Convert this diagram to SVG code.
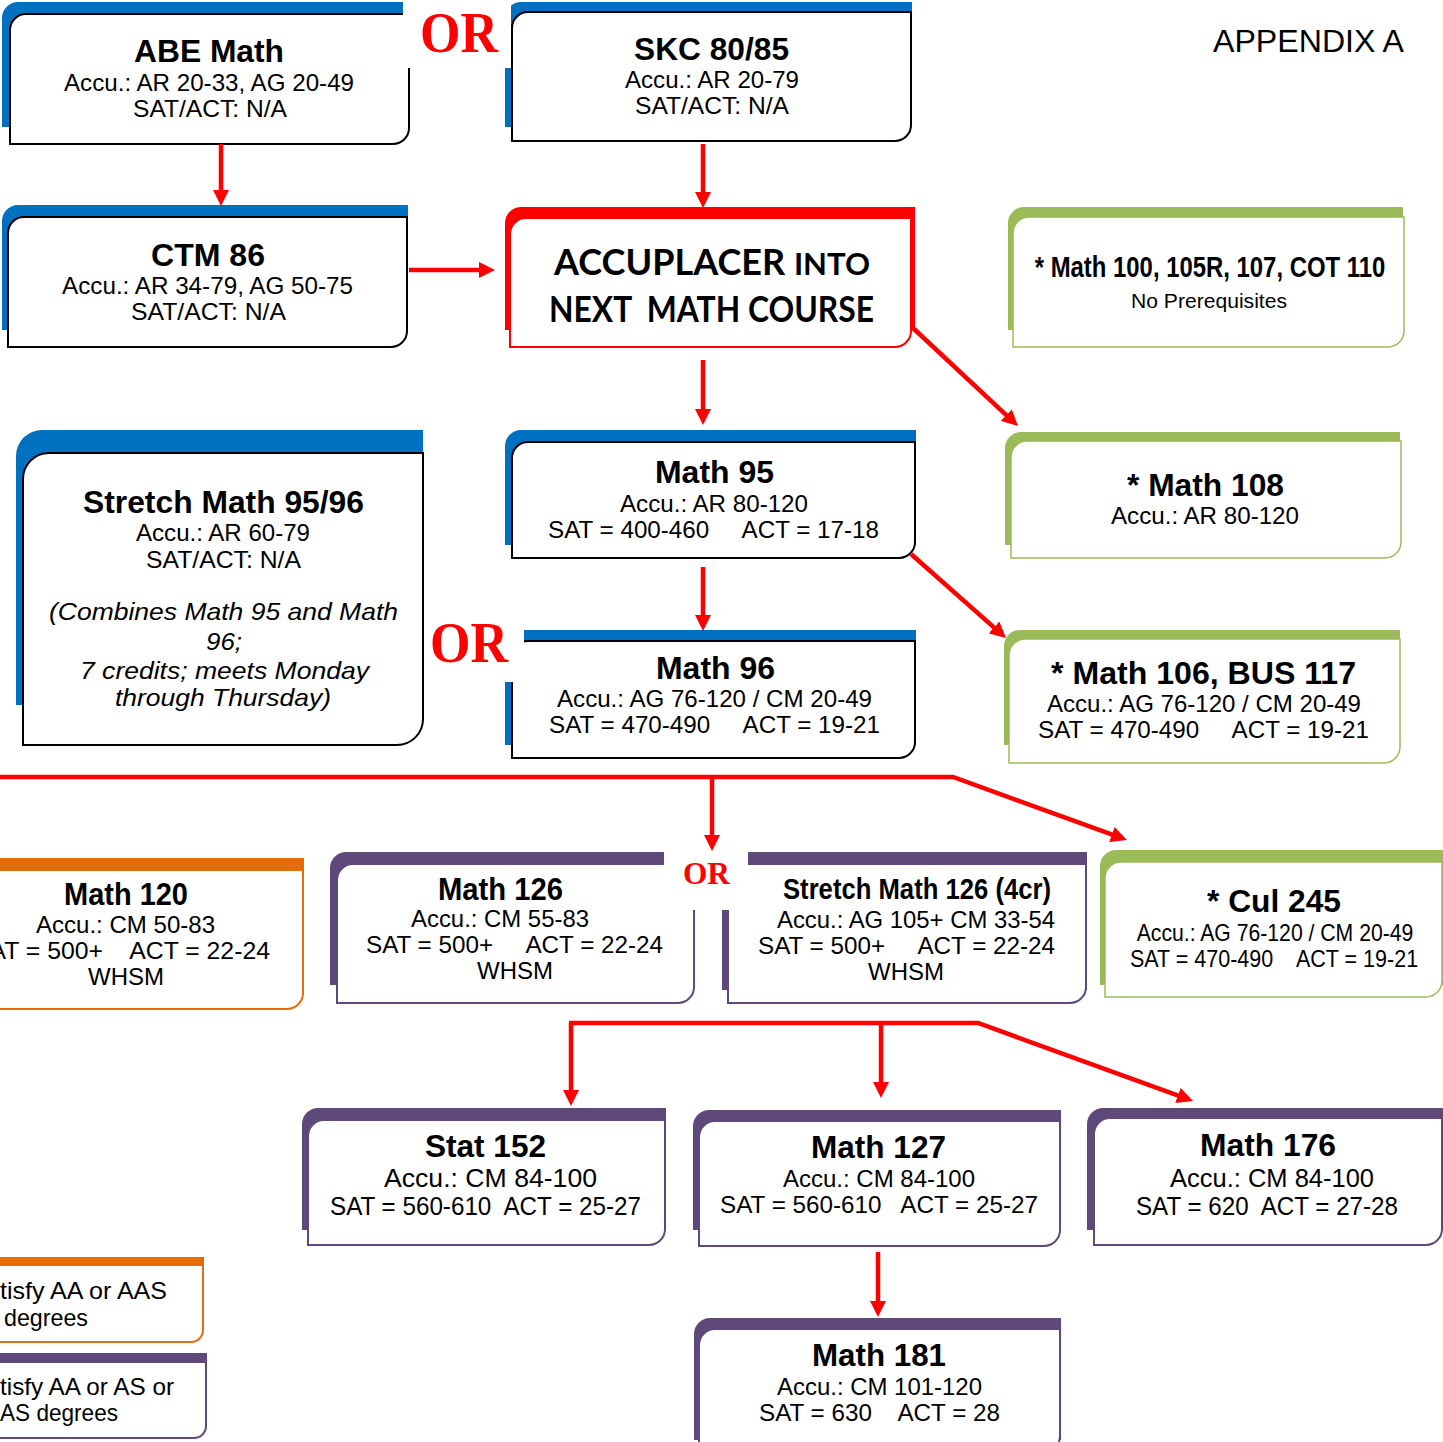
<svg xmlns="http://www.w3.org/2000/svg" width="1443" height="1442" viewBox="0 0 1443 1442">
<style>
text{font-family:"Liberation Sans",Arial,sans-serif;fill:#000;white-space:pre}
.t{font-size:31px;font-weight:bold;text-anchor:middle}
.tc{font-size:29px;font-weight:bold;text-anchor:middle}
.l{font-size:24px;text-anchor:middle}
.l2{font-size:25px;text-anchor:middle}
.i{font-size:24px;font-style:italic;text-anchor:middle}
.s{font-size:24px}
.or{font-family:"Liberation Serif","Times New Roman",serif;font-weight:bold;fill:#FF0000;text-anchor:middle}
.acc{font-family:Lato,"Liberation Sans",sans-serif;font-weight:700;font-size:36px;text-anchor:middle}
.bb{fill:#0070C0}.bw{fill:#fff;stroke:#000;stroke-width:2}
.rb{fill:#FF0000}.rw{fill:#fff;stroke:#FF0000;stroke-width:2}
.gb{fill:#9BBB59}.gw{fill:#fff;stroke:#9BBB59;stroke-width:1.5}
.ob{fill:#E46C0A}.ow{fill:#fff;stroke:#E46C0A;stroke-width:2}
.pb{fill:#5F497A}.pw{fill:#fff;stroke:#5F497A;stroke-width:2}
.c{fill:none;stroke:#FF0000;stroke-width:4.5;marker-end:url(#ah)}
</style>
<defs>
<marker id="ah" markerUnits="userSpaceOnUse" markerWidth="16" markerHeight="16" refX="4" refY="8" orient="auto">
<path d="M0,0 L16,8 L0,16 Z" fill="#FF0000"/>
</marker>
</defs>
<rect width="1443" height="1442" fill="#fff"/>

<g id="abe-math">
<path class="bb" d="M2,127 V18 A16,16 0 0 1 18,2 H403 V127 Z"/>
<path class="bw" d="M10,144 V30 A16,16 0 0 1 26,14 H409 V128 A16,16 0 0 1 393,144 Z"/>
<text class="t" x="209" y="62" textLength="150" lengthAdjust="spacingAndGlyphs">ABE Math</text>
<text class="l" x="209" y="91" textLength="290" lengthAdjust="spacingAndGlyphs">Accu.: AR 20-33, AG 20-49</text>
<text class="l" x="210" y="117" textLength="154" lengthAdjust="spacingAndGlyphs">SAT/ACT: N/A</text>
</g>

<g id="skc">
<path class="bb" d="M505,127 V18 A16,16 0 0 1 521,2 H912 V127 Z"/>
<path class="bw" d="M512,141 V28 A16,16 0 0 1 528,12 H911 V125 A16,16 0 0 1 895,141 Z"/>
<text class="t" x="711.5" y="60" textLength="155" lengthAdjust="spacingAndGlyphs">SKC 80/85</text>
<text class="l" x="712" y="88" textLength="174" lengthAdjust="spacingAndGlyphs">Accu.: AR 20-79</text>
<text class="l" x="712" y="114" textLength="154" lengthAdjust="spacingAndGlyphs">SAT/ACT: N/A</text>
</g>

<g id="ctm86">
<path class="bb" d="M2,330 V221 A16,16 0 0 1 18,205 H408 V330 Z"/>
<path class="bw" d="M8,347 V233 A16,16 0 0 1 24,217 H407 V331 A16,16 0 0 1 391,347 Z"/>
<text class="t" x="208" y="266" textLength="114" lengthAdjust="spacingAndGlyphs">CTM 86</text>
<text class="l" x="207.5" y="294" textLength="291" lengthAdjust="spacingAndGlyphs">Accu.: AR 34-79, AG 50-75</text>
<text class="l" x="208.5" y="320" textLength="155" lengthAdjust="spacingAndGlyphs">SAT/ACT: N/A</text>
</g>

<g id="accuplacer">
<path class="rb" d="M505,330 V223 A16,16 0 0 1 521,207 H915 V330 Z"/>
<path class="rw" d="M510,347 V234 A16,16 0 0 1 526,218 H911 V331 A16,16 0 0 1 895,347 Z"/>
<text class="acc" x="712" y="275" textLength="316" lengthAdjust="spacingAndGlyphs">ACCUPLACER <tspan font-size="31">INTO</tspan></text>
<text class="acc" x="711.5" y="322" textLength="325" lengthAdjust="spacingAndGlyphs">NEXT  MATH COURSE</text>
</g>

<g id="math100">
<path class="gb" d="M1008,330 V223 A16,16 0 0 1 1024,207 H1403 V330 Z"/>
<path class="gw" d="M1013,347 V233 A16,16 0 0 1 1029,217 H1404 V331 A16,16 0 0 1 1388,347 Z"/>
<text class="tc" transform="translate(1210,277) scale(0.824,1)" x="0" y="0">* Math 100, 105R, 107, COT 110</text>
<text class="l" x="1209" y="308" style="font-size:20px" textLength="156" lengthAdjust="spacingAndGlyphs">No Prerequisites</text>
</g>

<g id="stretch-95-96">
<path class="bb" d="M16,705 V456 A26,26 0 0 1 42,430 H423 V705 Z"/>
<path class="bw" d="M23,745 V479 A26,26 0 0 1 49,453 H423 V719 A26,26 0 0 1 397,745 Z"/>
<text class="t" x="223.5" y="513" textLength="281" lengthAdjust="spacingAndGlyphs">Stretch Math 95/96</text>
<text class="l" x="223" y="541" textLength="174" lengthAdjust="spacingAndGlyphs">Accu.: AR 60-79</text>
<text class="l" x="223.5" y="568" textLength="155" lengthAdjust="spacingAndGlyphs">SAT/ACT: N/A</text>
<text class="i" x="223.5" y="620" textLength="349" lengthAdjust="spacingAndGlyphs">(Combines Math 95 and Math</text>
<text class="i" x="224" y="650" textLength="36" lengthAdjust="spacingAndGlyphs">96;</text>
<text class="i" x="224.5" y="679" textLength="289" lengthAdjust="spacingAndGlyphs">7 credits; meets Monday</text>
<text class="i" x="223" y="706" textLength="216" lengthAdjust="spacingAndGlyphs">through Thursday)</text>
</g>

<g id="math95">
<path class="bb" d="M505,545 V446 A16,16 0 0 1 521,430 H916 V545 Z"/>
<path class="bw" d="M512,558 V458 A16,16 0 0 1 528,442 H915 V542 A16,16 0 0 1 899,558 Z"/>
<text class="t" x="714.5" y="483" textLength="119" lengthAdjust="spacingAndGlyphs">Math 95</text>
<text class="l" x="714" y="512" textLength="188" lengthAdjust="spacingAndGlyphs">Accu.: AR 80-120</text>
<text class="l" x="713.5" y="538" textLength="331" lengthAdjust="spacingAndGlyphs">SAT = 400-460     ACT = 17-18</text>
</g>

<g id="math96">
<path class="bb" d="M505,745 V646 A16,16 0 0 1 521,630 H916 V745 Z"/>
<path class="bw" d="M512,758 V657 A16,16 0 0 1 528,641 H915 V742 A16,16 0 0 1 899,758 Z"/>
<text class="t" x="715.5" y="679" textLength="119" lengthAdjust="spacingAndGlyphs">Math 96</text>
<text class="l" x="714.5" y="707" textLength="315" lengthAdjust="spacingAndGlyphs">Accu.: AG 76-120 / CM 20-49</text>
<text class="l" x="714.5" y="733" textLength="331" lengthAdjust="spacingAndGlyphs">SAT = 470-490     ACT = 19-21</text>
</g>

<g id="math108">
<path class="gb" d="M1005,545 V448 A16,16 0 0 1 1021,432 H1400 V545 Z"/>
<path class="gw" d="M1011,558 V457 A16,16 0 0 1 1027,441 H1401 V542 A16,16 0 0 1 1385,558 Z"/>
<text class="t" x="1205.5" y="496" textLength="157" lengthAdjust="spacingAndGlyphs">* Math 108</text>
<text class="l" x="1205" y="524" textLength="188" lengthAdjust="spacingAndGlyphs">Accu.: AR 80-120</text>
</g>

<g id="math106-bus117">
<path class="gb" d="M1004,745 V646 A16,16 0 0 1 1020,630 H1400 V745 Z"/>
<path class="gw" d="M1009,763 V655 A16,16 0 0 1 1025,639 H1400 V747 A16,16 0 0 1 1384,763 Z"/>
<text class="t" x="1203.5" y="684" textLength="305" lengthAdjust="spacingAndGlyphs">* Math 106, BUS 117</text>
<text class="l" x="1204" y="712" textLength="314" lengthAdjust="spacingAndGlyphs">Accu.: AG 76-120 / CM 20-49</text>
<text class="l" x="1203.5" y="738" textLength="331" lengthAdjust="spacingAndGlyphs">SAT = 470-490     ACT = 19-21</text>
</g>

<g id="math120">
<path class="ob" d="M-20,995 V858 H304 V995 Z"/>
<path class="ow" d="M-20,1009 V870 H303 V993 A16,16 0 0 1 287,1009 Z"/>
<text class="t" x="126" y="905" textLength="124" lengthAdjust="spacingAndGlyphs">Math 120</text>
<text class="l" x="125.5" y="933" textLength="179" lengthAdjust="spacingAndGlyphs">Accu.: CM 50-83</text>
<text class="s" x="-27" y="959" textLength="297" lengthAdjust="spacingAndGlyphs">SAT = 500+    ACT = 22-24</text>
<text class="l" x="126" y="985" textLength="76" lengthAdjust="spacingAndGlyphs">WHSM</text>
</g>

<g id="math126">
<path class="pb" d="M330,985 V868 A16,16 0 0 1 346,852 H690 V985 Z"/>
<path class="pw" d="M337,1003 V880 A16,16 0 0 1 353,864 H694 V987 A16,16 0 0 1 678,1003 Z"/>
<text class="t" x="500.5" y="900" textLength="125" lengthAdjust="spacingAndGlyphs">Math 126</text>
<text class="l" x="500" y="927" textLength="178" lengthAdjust="spacingAndGlyphs">Accu.: CM 55-83</text>
<text class="l" x="514.5" y="953" textLength="297" lengthAdjust="spacingAndGlyphs">SAT = 500+     ACT = 22-24</text>
<text class="l" x="515" y="979" textLength="76" lengthAdjust="spacingAndGlyphs">WHSM</text>
</g>

<g id="stretch-math126">
<path class="pb" d="M722,990 V868 A16,16 0 0 1 738,852 H1087 V990 Z"/>
<path class="pw" d="M728,1003 V880 A16,16 0 0 1 744,864 H1086 V987 A16,16 0 0 1 1070,1003 Z"/>
<text class="tc" transform="translate(917,899) scale(0.885,1)" x="0" y="0">Stretch Math 126 (4cr)</text>
<text class="l" x="916" y="928" textLength="278" lengthAdjust="spacingAndGlyphs">Accu.: AG 105+ CM 33-54</text>
<text class="l" x="906.5" y="954" textLength="297" lengthAdjust="spacingAndGlyphs">SAT = 500+     ACT = 22-24</text>
<text class="l" x="906" y="980" textLength="76" lengthAdjust="spacingAndGlyphs">WHSM</text>
</g>

<g id="cul245">
<path class="gb" d="M1100,985 V866 A16,16 0 0 1 1116,850 H1450 V985 Z"/>
<path class="gw" d="M1105,997 V878 A16,16 0 0 1 1121,862 H1442 V981 A16,16 0 0 1 1426,997 Z"/>
<text class="t" x="1274" y="912" textLength="134" lengthAdjust="spacingAndGlyphs">* Cul 245</text>
<text class="l" transform="translate(1275,941) scale(0.883,1)" x="0" y="0">Accu.: AG 76-120 / CM 20-49</text>
<text class="l" transform="translate(1274,967) scale(0.897,1)" x="0" y="0">SAT = 470-490    ACT = 19-21</text>
</g>

<g id="stat152">
<path class="pb" d="M302,1230 V1124 A16,16 0 0 1 318,1108 H666 V1230 Z"/>
<path class="pw" d="M308,1245 V1136 A16,16 0 0 1 324,1120 H665 V1229 A16,16 0 0 1 649,1245 Z"/>
<text class="t" x="485.5" y="1157" textLength="121" lengthAdjust="spacingAndGlyphs">Stat 152</text>
<text class="l2" x="490.5" y="1187" textLength="213" lengthAdjust="spacingAndGlyphs">Accu.: CM 84-100</text>
<text class="l2" x="485.5" y="1215" textLength="311" lengthAdjust="spacingAndGlyphs">SAT = 560-610  ACT = 25-27</text>
</g>

<g id="math127">
<path class="pb" d="M693,1230 V1126 A16,16 0 0 1 709,1110 H1061 V1230 Z"/>
<path class="pw" d="M699,1246 V1137 A16,16 0 0 1 715,1121 H1060 V1230 A16,16 0 0 1 1044,1246 Z"/>
<text class="t" x="878.5" y="1158" textLength="135" lengthAdjust="spacingAndGlyphs">Math 127</text>
<text class="l" x="879" y="1187" textLength="192" lengthAdjust="spacingAndGlyphs">Accu.: CM 84-100</text>
<text class="l" x="879" y="1213" textLength="318" lengthAdjust="spacingAndGlyphs">SAT = 560-610   ACT = 25-27</text>
</g>

<g id="math176">
<path class="pb" d="M1087,1230 V1124 A16,16 0 0 1 1103,1108 H1443 V1230 Z"/>
<path class="pw" d="M1094,1245 V1134 A16,16 0 0 1 1110,1118 H1442 V1229 A16,16 0 0 1 1426,1245 Z"/>
<text class="t" x="1268" y="1156" textLength="136" lengthAdjust="spacingAndGlyphs">Math 176</text>
<text class="l2" x="1272" y="1187" textLength="204" lengthAdjust="spacingAndGlyphs">Accu.: CM 84-100</text>
<text class="l2" x="1267" y="1215" textLength="262" lengthAdjust="spacingAndGlyphs">SAT = 620  ACT = 27-28</text>
</g>

<g id="math181">
<path class="pb" d="M694,1440 V1334 A16,16 0 0 1 710,1318 H1061 V1440 Z"/>
<path class="pw" d="M699,1452 V1345 A16,16 0 0 1 715,1329 H1060 V1436 A16,16 0 0 1 1044,1452 Z"/>
<text class="t" x="879" y="1366" textLength="134" lengthAdjust="spacingAndGlyphs">Math 181</text>
<text class="l" x="879.5" y="1395" textLength="205" lengthAdjust="spacingAndGlyphs">Accu.: CM 101-120</text>
<text class="l" x="879.5" y="1421" textLength="241" lengthAdjust="spacingAndGlyphs">SAT = 630    ACT = 28</text>
</g>

<g id="legend-aas">
<path class="ob" d="M-20,1330 V1257 H204 V1330 Z"/>
<path class="ow" d="M-20,1342 V1265 H203 V1330 A12,12 0 0 1 191,1342 Z"/>
<text class="s" x="0" y="1299" textLength="167" lengthAdjust="spacingAndGlyphs">tisfy AA or AAS</text>
<text class="s" x="4" y="1326" textLength="84" lengthAdjust="spacingAndGlyphs">degrees</text>
</g>

<g id="legend-as">
<path class="pb" d="M-20,1425 V1353 H207 V1425 Z"/>
<path class="pw" d="M-20,1438 V1362 H206 V1426 A12,12 0 0 1 194,1438 Z"/>
<text class="s" x="0" y="1395" textLength="174" lengthAdjust="spacingAndGlyphs">tisfy AA or AS or</text>
<text class="s" x="0" y="1421" textLength="118" lengthAdjust="spacingAndGlyphs">AS degrees</text>
</g>

<g id="or-labels">
<rect x="403" y="0" width="108" height="68" fill="#fff"/>
<rect x="424" y="606" width="100" height="76" fill="#fff"/>
<rect x="664" y="852" width="84" height="58" fill="#fff"/>
<text class="or" x="459" y="52" font-size="56" textLength="78" lengthAdjust="spacingAndGlyphs">OR</text>
<text class="or" x="469" y="662" font-size="56" textLength="78" lengthAdjust="spacingAndGlyphs">OR</text>
<text class="or" x="706.5" y="884" font-size="32" textLength="47" lengthAdjust="spacingAndGlyphs">OR</text>
</g>

<text x="1308.5" y="52" font-size="31" text-anchor="middle" textLength="191" lengthAdjust="spacingAndGlyphs">APPENDIX A</text>

<g id="connectors">
<path class="c" d="M221,144 V194"/>
<path class="c" d="M703,144 V196"/>
<path class="c" d="M409,270 H483"/>
<path class="c" d="M703,360 V413"/>
<path class="c" d="M913,328 L1009.2,417.8"/>
<path class="c" d="M703,567 V619"/>
<path class="c" d="M911,554 L997,630.1"/>
<path class="c" d="M-5,777 H953 L1115.7,835.9"/>
<path class="c" d="M712,777 V839"/>
<path class="c" d="M569,1023 H978 L1181.7,1096.9"/>
<path class="c" d="M571,1023 V1094"/>
<path class="c" d="M881,1023 V1086"/>
<path class="c" d="M878,1252 V1305"/>
</g>
</svg>
